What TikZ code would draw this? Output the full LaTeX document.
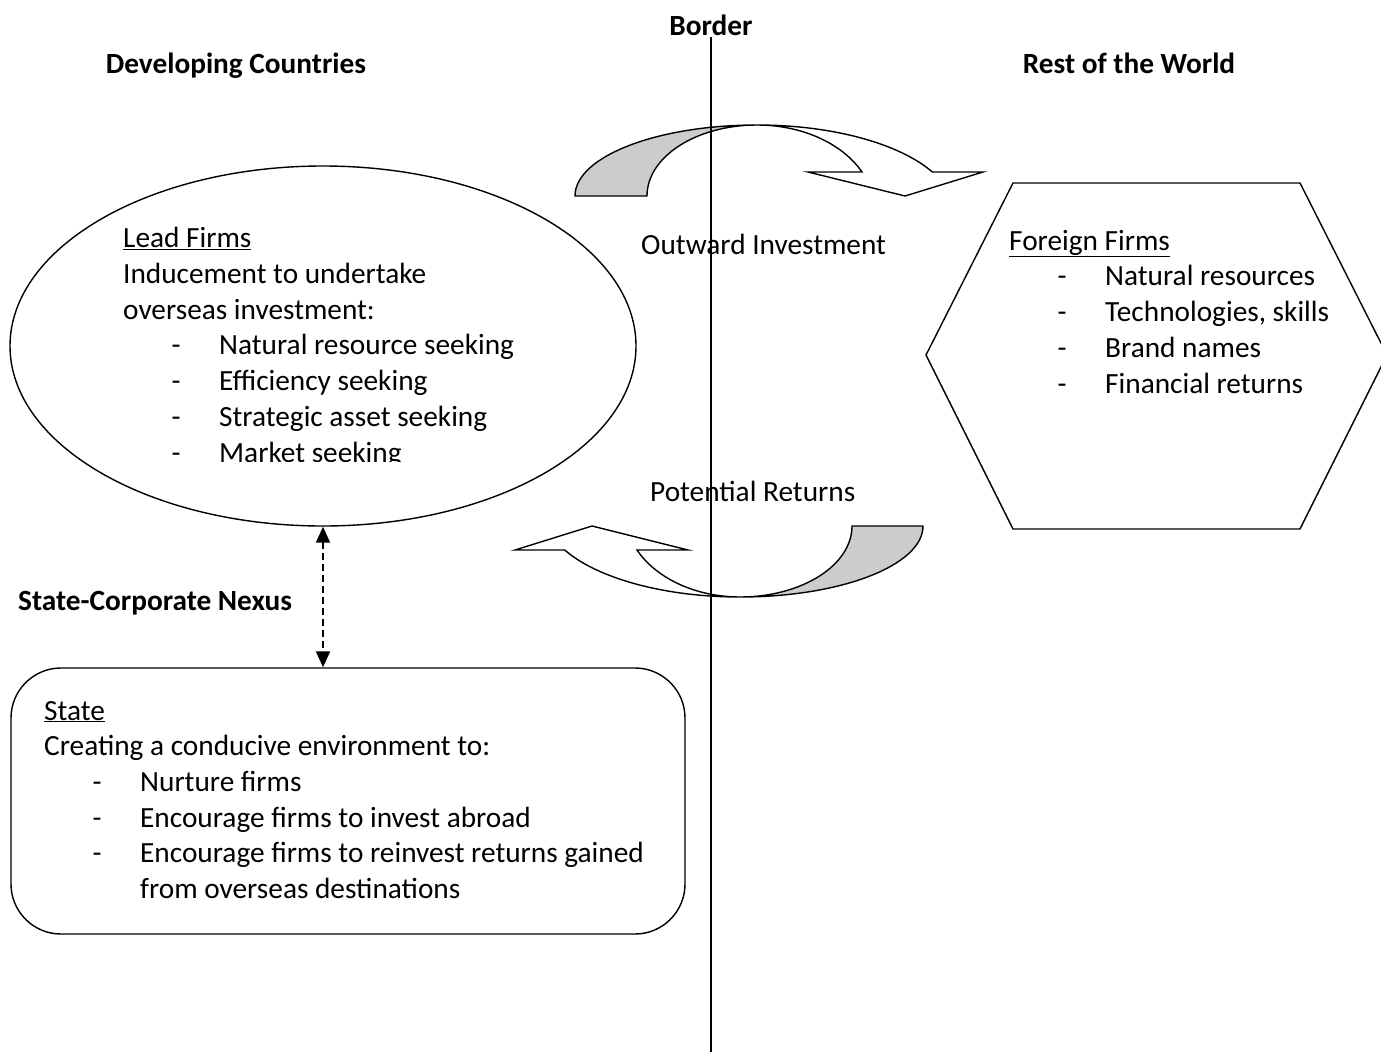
\documentclass[tikz,border=0pt]{standalone}
\usepackage{fontspec}
\setmainfont{Carlito}
\usetikzlibrary{shapes.geometric,arrows.meta}
\newcommand\lstitem[1]{\makebox[96pt][l]{\hspace*{48.5pt}-}#1}
\tikzset{
  txt/.style={inner sep=0pt, align=left, anchor=base west, font={\fontsize{29.3}{35.7}\selectfont}},
  head/.style={inner sep=0pt, anchor=base, font={\fontsize{29.3}{36}\selectfont\bfseries}},
  outline/.style={draw=black, line width=1.4pt},
  band/.style={draw=black, line width=1.4pt, line join=miter},
}
\begin{document}
\begin{tikzpicture}[x=1pt,y=-1pt]
\clip (0,0) rectangle (1381,1052);
\fill[white] (0,0) rectangle (1381,1052);

% headings
\node[head] (border) at (711,35) {Border};
\node[head] (dev) at (236,73) {Developing Countries};
\node[head] (row) at (1129,73) {Rest of the World};
\node[head, anchor=base west] (nexus) at (18,610) {State-Corporate Nexus};

% lead firms ellipse
\node[ellipse, outline, minimum width=626pt, minimum height=360pt, inner sep=0pt] (leadE) at (323,346) {};
\begin{scope}
\clip (100,200) rectangle (600,461);
\node[txt] (lead) at (123,462) {\underline{Lead Firms}\\Inducement to undertake\\overseas investment:\\\lstitem{Natural resource seeking}\\\lstitem{Efficiency seeking}\\\lstitem{Strategic asset seeking}\\\lstitem{Market seeking}};
\end{scope}

% foreign firms hexagon
\draw[outline, line join=miter] (1013,183) -- (1300,183) -- (1387,355) -- (1300,529) -- (1013,529) -- (926,355) -- cycle;
\node[txt] (foreign) at (1009,393) {\underline{Foreign Firms}\\\lstitem{Natural resources}\\\lstitem{Technologies, skills}\\\lstitem{Brand names}\\\lstitem{Financial returns}};

% state box
\node[outline, rounded corners=50pt, minimum width=674pt, minimum height=266pt, inner sep=0pt] (stateB) at (348,801) {};
\node[txt] (state) at (44,898.5) {\underline{State}\\Creating a conducive environment to:\\\lstitem{Nurture firms}\\\lstitem{Encourage firms to invest abroad}\\\lstitem{Encourage firms to reinvest returns gained}\\\hspace*{96pt}from overseas destinations};

% nexus arrow
\draw[line width=2pt, dash pattern=on 7pt off 4pt, {Triangle[length=16pt,width=14pt]}-{Triangle[length=16pt,width=14pt]}] (leadE.south) -- (leadE.south |- stateB.north);

% top curved arrow (outward investment)
\draw[band, fill=white] (757,125) arc[start angle=-90, end angle=-26.57, x radius=196, y radius=85]
  -- (983,172) -- (905,196) -- (808,172) -- (862,172)
  arc[start angle=-26.57, end angle=-90, x radius=117, y radius=85] -- cycle;
\draw[band, fill=gray!40] (575,196) arc[start angle=180, end angle=270, x radius=182, y radius=71]
  arc[start angle=270, end angle=180, x radius=110, y radius=71] -- cycle;

% bottom curved arrow (potential returns)
\draw[band, fill=white] (740,597) arc[start angle=90, end angle=153.43, x radius=196, y radius=85]
  -- (515,550) -- (592,526) -- (688,550) -- (637,550)
  arc[start angle=153.43, end angle=90, x radius=115, y radius=85] -- cycle;
\draw[band, fill=gray!40] (923,526) arc[start angle=0, end angle=90, x radius=183, y radius=71]
  arc[start angle=90, end angle=0, x radius=112, y radius=71] -- cycle;

% arrow labels
\node[txt] (outward) at (641,254) {Outward Investment};
\node[txt] (returns) at (650,501) {Potential Returns};

% border line
\coordinate (btop) at (711,37);
\coordinate (bbot) at (711,1052);
\draw[line width=2pt] (btop) -- (bbot);
\end{tikzpicture}
\end{document}
